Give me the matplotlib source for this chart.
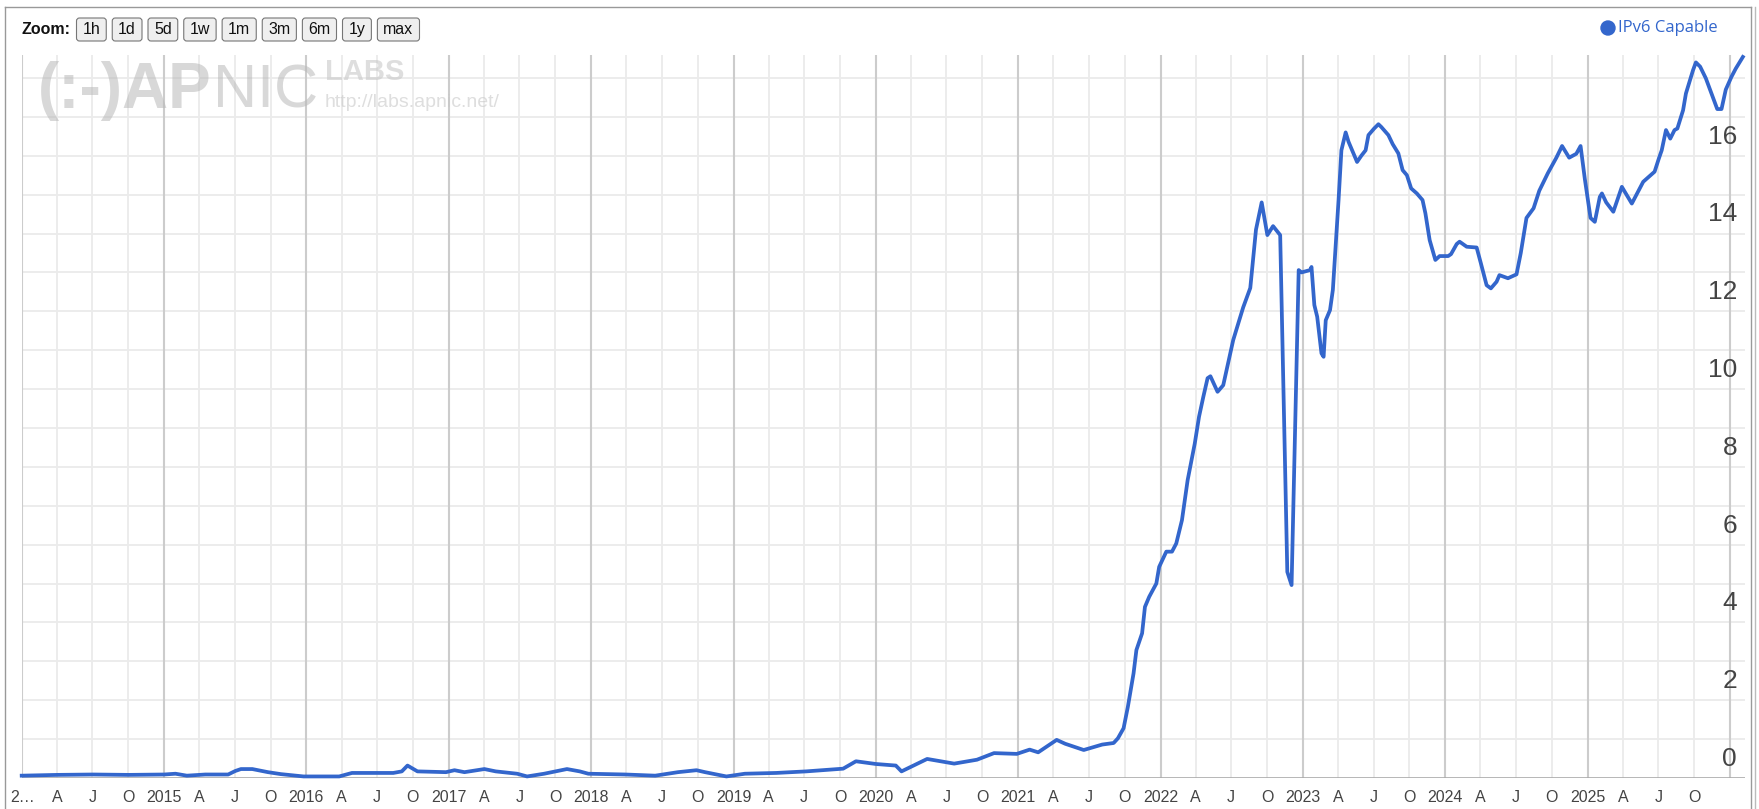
import matplotlib.pyplot as plt
from matplotlib import font_manager
from matplotlib.patches import FancyBboxPatch, Circle
from matplotlib.lines import Line2D
from matplotlib.transforms import IdentityTransform

# IPv6 capable share (%), x in decimal years
years = [
    2014.00, 2014.25, 2014.50, 2014.75, 2015.00, 2015.08, 2015.16, 2015.29, 2015.45, 2015.50,
    2015.54, 2015.62, 2015.73, 2015.82, 2015.98, 2016.23, 2016.32, 2016.61, 2016.67, 2016.71,
    2016.78, 2016.98, 2017.04, 2017.11, 2017.25, 2017.33, 2017.48, 2017.55, 2017.67, 2017.83,
    2017.92, 2017.98, 2018.24, 2018.45, 2018.61, 2018.74, 2018.80, 2018.95, 2019.08, 2019.30,
    2019.51, 2019.77, 2019.86, 2020.00, 2020.14, 2020.18, 2020.36, 2020.55, 2020.71, 2020.83,
    2020.99, 2021.08, 2021.14, 2021.27, 2021.33, 2021.46, 2021.59, 2021.67, 2021.70, 2021.74,
    2021.77, 2021.81, 2021.83, 2021.87, 2021.89, 2021.92, 2021.97, 2021.99, 2022.04, 2022.08,
    2022.11, 2022.15, 2022.19, 2022.24, 2022.27, 2022.30, 2022.33, 2022.35, 2022.40, 2022.44,
    2022.51, 2022.58, 2022.63, 2022.67, 2022.71, 2022.75, 2022.79, 2022.84, 2022.89, 2022.92,
    2022.97, 2022.99, 2023.05, 2023.06, 2023.08, 2023.10, 2023.13, 2023.145, 2023.16, 2023.19,
    2023.21, 2023.25, 2023.27, 2023.30, 2023.32, 2023.35, 2023.38, 2023.41, 2023.44, 2023.46,
    2023.50, 2023.53, 2023.55, 2023.60, 2023.63, 2023.67, 2023.70, 2023.73, 2023.76, 2023.80,
    2023.84, 2023.86, 2023.89, 2023.93, 2023.96, 2024.02, 2024.04, 2024.08, 2024.10, 2024.15,
    2024.22, 2024.25, 2024.29, 2024.32, 2024.36, 2024.38, 2024.44, 2024.50, 2024.53, 2024.57,
    2024.62, 2024.66, 2024.72, 2024.78, 2024.82, 2024.87, 2024.92, 2024.95, 2024.98, 2025.02,
    2025.05, 2025.085, 2025.10, 2025.13, 2025.18, 2025.24, 2025.31, 2025.39, 2025.47, 2025.50,
    2025.52, 2025.55, 2025.58, 2025.61, 2025.63, 2025.67, 2025.69, 2025.74, 2025.76, 2025.79,
    2025.83, 2025.88, 2025.91, 2025.94, 2025.97, 2026.01, 2026.04, 2026.09,
]
ipv6 = [
    0.06, 0.08, 0.09, 0.08, 0.09, 0.11, 0.06, 0.09, 0.09, 0.18,
    0.23, 0.23, 0.15, 0.10, 0.04, 0.04, 0.13, 0.13, 0.17, 0.32,
    0.17, 0.15, 0.20, 0.15, 0.23, 0.17, 0.11, 0.04, 0.11, 0.23,
    0.17, 0.11, 0.09, 0.06, 0.15, 0.20, 0.15, 0.04, 0.11, 0.13,
    0.17, 0.24, 0.43, 0.36, 0.32, 0.17, 0.49, 0.37, 0.47, 0.64,
    0.62, 0.73, 0.66, 0.98, 0.88, 0.72, 0.86, 0.90, 1.02, 1.28,
    1.83, 2.69, 3.29, 3.72, 4.40, 4.66, 5.00, 5.43, 5.82, 5.82,
    6.03, 6.63, 7.66, 8.60, 9.29, 9.80, 10.28, 10.33, 9.93, 10.10,
    11.26, 12.10, 12.60, 14.10, 14.80, 13.96, 14.19, 13.96, 5.30, 4.96,
    13.06, 13.00, 13.06, 13.14, 12.16, 11.86, 10.92, 10.83, 11.77, 12.03,
    12.55, 14.86, 16.14, 16.60, 16.36, 16.10, 15.84, 16.00, 16.14, 16.53,
    16.70, 16.81, 16.74, 16.53, 16.30, 16.06, 15.63, 15.50, 15.16, 15.03,
    14.86, 14.52, 13.83, 13.32, 13.42, 13.42, 13.47, 13.73, 13.79, 13.66,
    13.64, 13.23, 12.67, 12.59, 12.76, 12.93, 12.85, 12.95, 13.50, 14.40,
    14.65, 15.10, 15.55, 15.95, 16.25, 15.95, 16.05, 16.25, 15.40, 14.40,
    14.30, 14.94, 15.03, 14.80, 14.56, 15.20, 14.77, 15.33, 15.59, 15.93,
    16.14, 16.66, 16.44, 16.66, 16.70, 17.17, 17.60, 18.20, 18.40, 18.29,
    17.99, 17.50, 17.20, 17.20, 17.70, 18.03, 18.24, 18.54,
]

first_year, last_year = 2014, 2026
quarter_labels = ['A', 'J', 'O']
y_ticks = list(range(0, 17, 2))
zoom_buttons = ['1h', '1d', '5d', '1w', '1m', '3m', '6m', '1y', 'max']
series_name = 'IPv6 Capable'

W, H = 1759, 809
BLUE = '#3366cc'
GRID = '#ebebeb'
YEAR_GRID = '#cccccc'

installed = {f.name for f in font_manager.fontManager.ttflist}
narrow = 'Liberation Sans Narrow' if 'Liberation Sans Narrow' in installed else 'Liberation Sans'


def fx(x):
    return x / W


def fy(y):
    return 1 - y / H


fig = plt.figure(figsize=(W / 100, H / 100), dpi=100, facecolor='white')
ax = fig.add_axes([fx(21.7), fy(778), fx(1745) - fx(21.7), fy(55) - fy(778)])

ax.set_xlim(first_year, 2026.105)
ax.set_ylim(0, 18.59)
for s in ax.spines.values():
    s.set_visible(False)
ax.set_xticks([])
ax.set_yticks([])

# grid
for v in range(1, 19):
    ax.axhline(v, color=GRID, lw=1.3, zorder=0)
quarter_offsets = [90 / 365, 181 / 365, 273 / 365]
for yr in range(first_year, last_year + 1):
    ax.axvline(yr, color=YEAR_GRID, lw=1.5, zorder=0.5)
    if yr < last_year:
        for q in quarter_offsets:
            ax.axvline(yr + q, color=GRID, lw=1.3, zorder=0)
ax.axhline(0, color='#aaaaaa', lw=1.2, zorder=1)

ax.plot(years, ipv6, color=BLUE, lw=2.7, solid_joinstyle='round', zorder=3, clip_on=False)

# y labels inside the plot on the right
ytrans = ax.get_yaxis_transform()
for v in y_ticks:
    ax.text(0.9954, v + 0.49, str(v), transform=ytrans, ha='right', va='center',
            fontsize=19, color='#444444', family=narrow)

# x labels
xtrans = ax.get_xaxis_transform()
lab_y = (778 - 797) / (778 - 55)
for yr in range(first_year, last_year):
    if yr == first_year:
        fig.text(fx(10), fy(797), '2…', ha='left', va='center', fontsize=11.5,
                 color='#444444', family='Liberation Sans')
    else:
        ax.text(yr, lab_y, str(yr), transform=xtrans, ha='center', va='center',
                fontsize=11.5, color='#444444', family='Liberation Sans', clip_on=False)
    for q, lab in zip(quarter_offsets, quarter_labels):
        ax.text(yr + q, lab_y, lab, transform=xtrans, ha='center', va='center',
                fontsize=11.5, color='#444444', family='Liberation Sans', clip_on=False)

# watermark logo
renderer = fig.canvas.get_renderer()
logo = fig.text(fx(38), fy(108), '(:-)AP', ha='left', va='baseline', fontsize=46,
                fontweight='bold', color='#b8b8b8', alpha=0.55, family='Liberation Sans', zorder=5)
bb = logo.get_window_extent(renderer)
fig.text(fx(bb.x1 + 1), fy(108), 'NIC', ha='left', va='baseline', fontsize=44,
         color='#b8b8b8', alpha=0.55, family='Liberation Sans', zorder=5)
fig.text(fx(325), fy(80), 'LABS', ha='left', va='baseline', fontsize=21,
         fontweight='bold', color='#c4c4c4', alpha=0.55, family='Liberation Sans', zorder=5)
fig.text(fx(325), fy(107), 'http://labs.apnic.net/', ha='left', va='baseline', fontsize=14,
         color='#c8c8c8', alpha=0.6, family='Liberation Sans', zorder=5)

# zoom controls
fig.text(fx(21), fy(29.5), 'Zoom:', ha='left', va='center', fontsize=11.5,
         fontweight='bold', color='#111111', family='Liberation Sans')
x = 76.5
for lab in zoom_buttons:
    t = fig.text(fx(x + 6), fy(29.5), lab, ha='left', va='center', fontsize=11.5,
                 color='#111111', family='Liberation Sans', zorder=6)
    w = t.get_window_extent(renderer).width
    box = FancyBboxPatch((x, H - 41), w + 12, 23, boxstyle='round,pad=0,rounding_size=3',
                         transform=IdentityTransform(), facecolor='#efefef',
                         edgecolor='#767676', lw=0.8, zorder=5)
    fig.add_artist(box)
    x += w + 12 + 6

# legend
fig.add_artist(Circle((1608, H - 28), 7, transform=IdentityTransform(), color=BLUE, zorder=5))
fig.text(fx(1618), fy(28), series_name, ha='left', va='center', fontsize=12,
         color=BLUE, family='Open Sans')

# outer frame
frame = dict(transform=fig.transFigure, color='#999999', lw=1)
fig.add_artist(Line2D([fx(5), fx(5)], [fy(7), 0], **frame))
fig.add_artist(Line2D([fx(5), fx(1751)], [fy(7), fy(7)], **frame))
fig.add_artist(Line2D([fx(1751), fx(1751)], [fy(7), 0], **frame))
fig.add_artist(Line2D([fx(1755), fx(1755)], [fy(7), 0], transform=fig.transFigure,
                      color='#bbbbbb', lw=1))

fig.savefig('out.png', dpi=100, facecolor='white')
